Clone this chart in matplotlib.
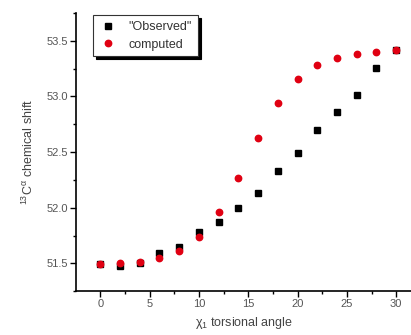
import numpy as np
import matplotlib
matplotlib.use("Agg")
import matplotlib.pyplot as plt
from matplotlib.ticker import MultipleLocator

plt.rcParams['font.family'] = ['Liberation Sans', 'DejaVu Sans']
plt.rcParams['mathtext.fontset'] = 'custom'
plt.rcParams['mathtext.rm'] = 'Liberation Sans'
plt.rcParams['mathtext.it'] = 'Liberation Sans'

angle = [0, 2, 4, 6, 8, 10, 12, 14, 16, 18, 20, 22, 24, 26, 28, 30]
observed = [51.49, 51.475, 51.50, 51.59, 51.65, 51.78, 51.875, 52.00,
            52.13, 52.33, 52.49, 52.70, 52.86, 53.01, 53.255, 53.415]
computed = [51.49, 51.50, 51.515, 51.55, 51.615, 51.74, 51.96, 52.265,
            52.63, 52.94, 53.16, 53.285, 53.35, 53.38, 53.40, 53.415]

fig = plt.figure(figsize=(4.11, 3.35), dpi=100)
ax = fig.add_axes([0.185, 0.131, 0.815, 0.83])

ax.plot(angle, observed, 's', color='black', markersize=3.8, label='"Observed"')
ax.plot(angle, computed, 'o', color='#e00012', markersize=4.6, label='computed')

ax.set_xlim(-2.45, 31.5)
ax.set_ylim(51.25, 53.75)
ax.xaxis.set_major_locator(MultipleLocator(5))
ax.xaxis.set_minor_locator(MultipleLocator(2.5))
ax.yaxis.set_major_locator(MultipleLocator(0.5))
ax.yaxis.set_minor_locator(MultipleLocator(0.25))
ax.yaxis.set_major_formatter(plt.FormatStrFormatter('%.1f'))

for s in ['top', 'right']:
    ax.spines[s].set_visible(False)
for s in ['left', 'bottom']:
    ax.spines[s].set_linewidth(1.2)

ax.tick_params(which='major', direction='out', length=4, width=1, labelsize=8,
               labelcolor='#555555', pad=2)
ax.tick_params(which='minor', direction='out', length=2.5, width=1)

ax.set_xlabel(r'$\chi_1$ torsional angle', fontsize=9, color='#444444', labelpad=4)
ax.set_ylabel(r'$^{13}$C$^{\alpha}$ chemical shift', fontsize=9, color='#444444', labelpad=7)

leg = ax.legend(loc='upper left', bbox_to_anchor=(0.04, 1.005), fontsize=9,
                frameon=True, fancybox=False, shadow={'color': 'black', 'alpha': 1},
                handletextpad=1.0, borderpad=0.45, labelspacing=0.45,
                handlelength=1.4, borderaxespad=0.3)
leg.get_frame().set_edgecolor('#333333')
leg.get_frame().set_linewidth(0.8)
for t in leg.get_texts():
    t.set_color('#333333')

fig.savefig('out.png', dpi=100)
